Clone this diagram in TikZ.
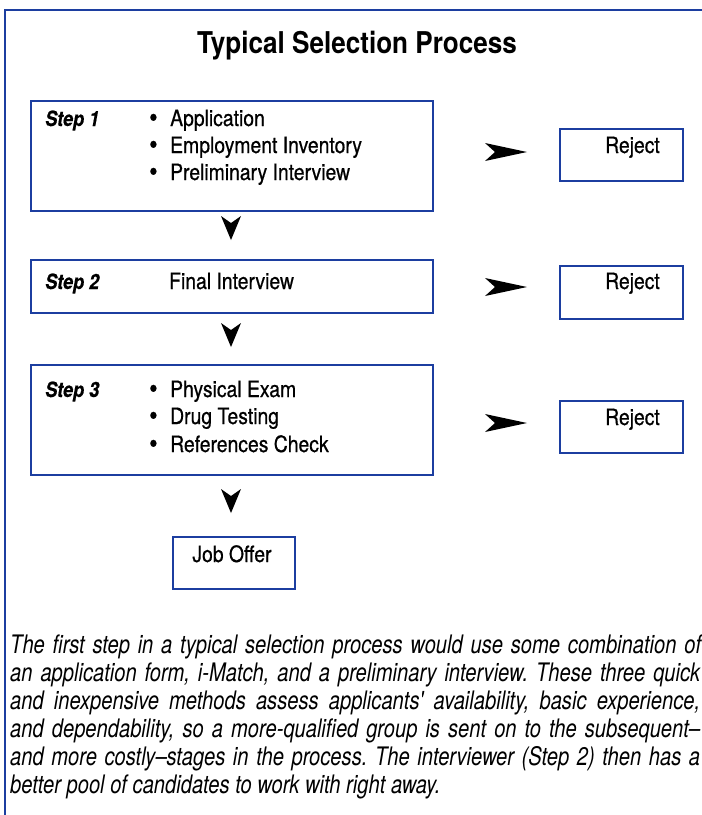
\documentclass[tikz,border=0pt]{standalone}
\usepackage{fontspec}
\setmainfont{TeX Gyre Heros}
\newfontfamily\boxf{TeX Gyre Heros}[FakeStretch=0.86,FakeBold=0.6]
\newfontfamily\lblf{TeX Gyre Heros}[FakeStretch=0.86,FakeBold=0.4]
\newfontfamily\titlef{TeX Gyre Heros}[FakeStretch=0.87]
\newfontfamily\paraf{TeX Gyre Heros}[FakeStretch=0.79]
\definecolor{frameblue}{RGB}{28,62,160}
\frenchspacing
\begin{document}
\begin{tikzpicture}[x=1pt,y=-1pt,
  box/.style={draw=frameblue, line width=2pt, inner sep=0pt, anchor=north west},
  txt/.style={anchor=base west, inner sep=0pt, font=\boxf\fontsize{22.5}{26}\selectfont},
  bul/.style={anchor=base west, inner sep=0pt, font=\boxf\fontsize{28}{30}\selectfont},
  steplbl/.style={anchor=base west, inner sep=0pt, font=\lblf\bfseries\itshape\fontsize{21}{24}\selectfont},
  para/.style={anchor=base west, inner sep=0pt, font=\paraf\itshape\fontsize{25.5}{28}\selectfont},
  downtip/.pic={\fill[black] (-10,0) -- (0,7) -- (10,0) -- (0,24) -- cycle;},
  righttip/.pic={\fill[black] (0,-9) -- (10,0) -- (0,9) -- (42,0) -- cycle;}
]
\useasboundingbox (0,0) rectangle (702,815);
\fill[white] (0,0) rectangle (702,815);
% outer frame
\draw[frameblue, line width=2.5pt] (5,815) -- (5,10) -- (702,10);

% title
\node[anchor=base, inner sep=0pt, font=\titlef\bfseries\fontsize{30}{34}\selectfont] (title) at (357,53) {Typical Selection Process};

% step boxes
\node[box, minimum width=402pt, minimum height=110pt] (s1) at (30,100) {};
\node[box, minimum width=402pt, minimum height=53pt] (s2) at (30,259) {};
\node[box, minimum width=402pt, minimum height=110pt] (s3) at (30,364) {};
\node[box, minimum width=122pt, minimum height=52pt] (job) at (172,536) {};
% reject boxes
\node[box, minimum width=123pt, minimum height=52pt] (r1) at (559,128) {};
\node[box, minimum width=123pt, minimum height=53pt] (r2) at (559,265) {};
\node[box, minimum width=123pt, minimum height=52pt] (r3) at (559,400) {};

% step 1 text
\node[steplbl] (l1) at (45,126) {Step 1};
\node[bul] (b11) at (149,127) {\textbullet};
\node[txt] (t11) at (170,126) {Application};
\node[bul] (b12) at (149,154) {\textbullet};
\node[txt] (t12) at (170,153) {Employment Inventory};
\node[bul] (b13) at (149,181) {\textbullet};
\node[txt] (t13) at (170,180) {Preliminary Interview};

% step 2 text
\node[steplbl] (l2) at (45,289) {Step 2};
\node[txt] (t21) at (169,289) {Final Interview};

% step 3 text
\node[steplbl] (l3) at (45,397) {Step 3};
\node[bul] (b31) at (149,398) {\textbullet};
\node[txt] (t31) at (170,397) {Physical Exam};
\node[bul] (b32) at (149,425) {\textbullet};
\node[txt] (t32) at (170,424) {Drug Testing};
\node[bul] (b33) at (149,453) {\textbullet};
\node[txt] (t33) at (170,452) {References Check};

% reject texts
\node[txt] (rt1) at (605,153) {Reject};
\node[txt] (rt2) at (605,289) {Reject};
\node[txt] (rt3) at (605,425) {Reject};

% job offer text
\node[txt, anchor=base] (jt) at (232,562) {Job Offer};

% arrowheads
\coordinate (d1) at (231,216);
\coordinate (d2) at (231,323);
\coordinate (d3) at (231,489);
\pic at (d1) {downtip};
\pic at (d2) {downtip};
\pic at (d3) {downtip};
\coordinate (a1) at (485,152);
\coordinate (a2) at (485,287);
\coordinate (a3) at (485,423);
\pic at (a1) {righttip};
\pic at (a2) {righttip};
\pic at (a3) {righttip};

% paragraph
\node[para] (p1) at (10,653) {\makebox[691pt][s]{The first step in a typical selection process would use some combination of}};
\node[para] (p2) at (10,681) {\makebox[690pt][s]{an application form, i-Match, and a preliminary interview. These three quick}};
\node[para] (p3) at (10,709) {\makebox[690pt][s]{and inexpensive methods assess applicants{\char"27} availability, basic experience,}};
\node[para] (p4) at (10,737) {\makebox[690pt][s]{and dependability, so a more-qualified group is sent on to the subsequent–}};
\node[para] (p5) at (10,765) {\makebox[690pt][s]{and more costly–stages in the process. The interviewer (Step 2) then has a}};
\node[para] (p6) at (10,793) {better pool of candidates to work with right away.};
\end{tikzpicture}
\end{document}
